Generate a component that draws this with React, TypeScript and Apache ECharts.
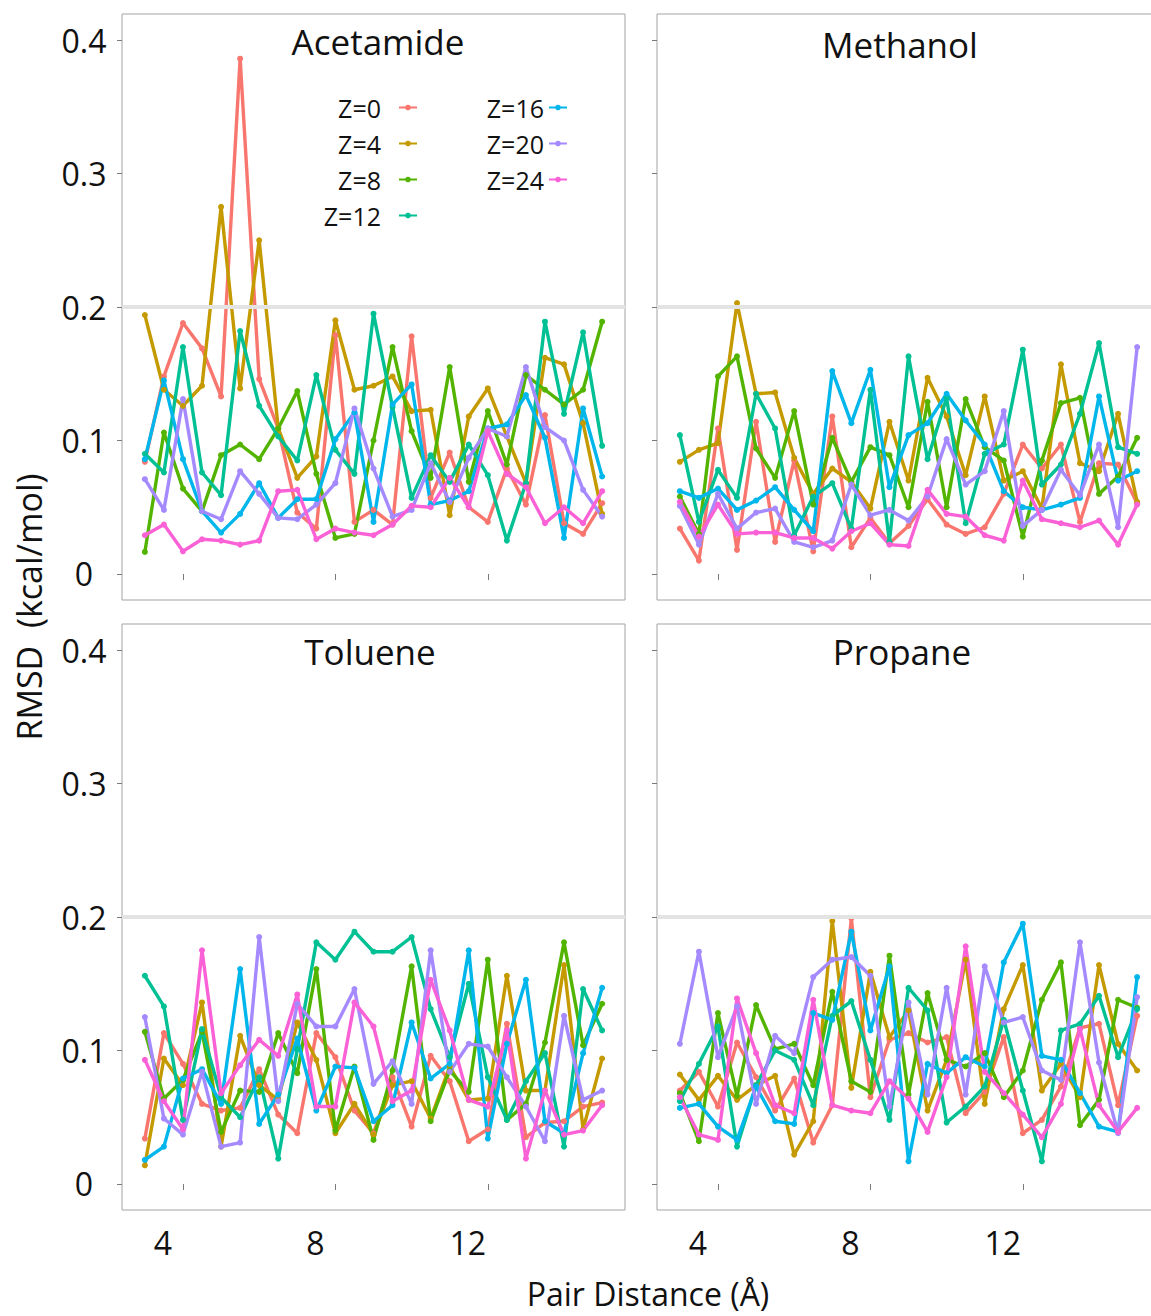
import React, { useEffect, useRef } from "react";
import * as echarts from "echarts";

// ---------- data ----------
const pairDistance = [3, 3.5, 4, 4.5, 5, 5.5, 6, 6.5, 7, 7.5, 8, 8.5, 9, 9.5, 10, 10.5, 11, 11.5, 12, 12.5, 13, 13.5, 14, 14.5, 15];
const zLevels = ["Z=0", "Z=4", "Z=8", "Z=12", "Z=16", "Z=20", "Z=24"];
const zColors = ["#F8766D", "#C49A00", "#53B400", "#00C094", "#00B6EB", "#A58AFF", "#FB61D7"];
const panelNames = ["Acetamide", "Methanol", "Toluene", "Propane"];
const xTicks = [4, 8, 12];
const yTicks = [0, 0.1, 0.2, 0.3, 0.4];
const thresholdRMSD = 0.2;

// Acetamide
const acetamideZ0 = [0.084, 0.148, 0.188, 0.169, 0.133, 0.386, 0.146, 0.109, 0.046, 0.034, 0.179, 0.039, 0.048, 0.037, 0.178, 0.057, 0.091, 0.050, 0.039, 0.079, 0.052, 0.119, 0.038, 0.030, 0.053];
const acetamideZ4 = [0.194, 0.138, 0.126, 0.141, 0.275, 0.139, 0.250, 0.109, 0.072, 0.088, 0.190, 0.138, 0.141, 0.148, 0.122, 0.123, 0.044, 0.118, 0.139, 0.103, 0.068, 0.162, 0.157, 0.113, 0.045];
const acetamideZ8 = [0.0165, 0.106, 0.064, 0.047, 0.089, 0.097, 0.086, 0.109, 0.137, 0.075, 0.027, 0.030, 0.100, 0.170, 0.107, 0.072, 0.155, 0.069, 0.122, 0.082, 0.149, 0.138, 0.127, 0.138, 0.189];
const acetamideZ12 = [0.090, 0.076, 0.170, 0.076, 0.059, 0.182, 0.126, 0.103, 0.085, 0.149, 0.093, 0.075, 0.195, 0.125, 0.057, 0.089, 0.069, 0.097, 0.074, 0.025, 0.068, 0.189, 0.120, 0.181, 0.096];
const acetamideZ16 = [0.086, 0.145, 0.086, 0.047, 0.031, 0.045, 0.068, 0.042, 0.056, 0.056, 0.101, 0.121, 0.039, 0.127, 0.142, 0.052, 0.055, 0.062, 0.109, 0.112, 0.134, 0.102, 0.027, 0.124, 0.073];
const acetamideZ20 = [0.071, 0.048, 0.131, 0.047, 0.041, 0.077, 0.060, 0.042, 0.041, 0.052, 0.068, 0.124, 0.079, 0.043, 0.048, 0.083, 0.054, 0.087, 0.109, 0.103, 0.155, 0.110, 0.100, 0.063, 0.043];
const acetamideZ24 = [0.029, 0.037, 0.017, 0.026, 0.025, 0.022, 0.025, 0.062, 0.063, 0.026, 0.034, 0.031, 0.029, 0.037, 0.051, 0.050, 0.072, 0.050, 0.107, 0.075, 0.065, 0.038, 0.050, 0.038, 0.062];

// Methanol
const methanolZ0 = [0.034, 0.010, 0.109, 0.018, 0.114, 0.024, 0.085, 0.017, 0.118, 0.020, 0.042, 0.023, 0.036, 0.056, 0.037, 0.030, 0.035, 0.060, 0.097, 0.079, 0.097, 0.039, 0.083, 0.082, 0.053];
const methanolZ4 = [0.084, 0.093, 0.098, 0.203, 0.135, 0.136, 0.087, 0.060, 0.079, 0.069, 0.049, 0.114, 0.070, 0.147, 0.118, 0.074, 0.133, 0.070, 0.077, 0.049, 0.157, 0.083, 0.077, 0.120, 0.054];
const methanolZ8 = [0.058, 0.030, 0.148, 0.163, 0.094, 0.072, 0.122, 0.052, 0.102, 0.069, 0.095, 0.089, 0.050, 0.129, 0.050, 0.131, 0.095, 0.085, 0.028, 0.085, 0.128, 0.132, 0.060, 0.073, 0.102];
const methanolZ12 = [0.104, 0.039, 0.078, 0.057, 0.135, 0.109, 0.029, 0.058, 0.068, 0.034, 0.138, 0.024, 0.163, 0.086, 0.132, 0.038, 0.090, 0.097, 0.168, 0.067, 0.082, 0.120, 0.173, 0.095, 0.090];
const methanolZ16 = [0.062, 0.057, 0.064, 0.048, 0.055, 0.065, 0.048, 0.032, 0.152, 0.113, 0.153, 0.065, 0.104, 0.113, 0.135, 0.115, 0.097, 0.062, 0.050, 0.048, 0.052, 0.057, 0.133, 0.070, 0.077];
const methanolZ20 = [0.051, 0.022, 0.060, 0.034, 0.046, 0.049, 0.024, 0.020, 0.025, 0.067, 0.044, 0.048, 0.040, 0.058, 0.101, 0.067, 0.077, 0.122, 0.036, 0.048, 0.078, 0.059, 0.097, 0.035, 0.170];
const methanolZ24 = [0.054, 0.028, 0.052, 0.030, 0.031, 0.031, 0.027, 0.027, 0.019, 0.032, 0.038, 0.022, 0.021, 0.063, 0.045, 0.043, 0.029, 0.025, 0.070, 0.041, 0.038, 0.035, 0.040, 0.022, 0.052];

// Toluene
const tolueneZ0 = [0.034, 0.113, 0.090, 0.060, 0.055, 0.057, 0.086, 0.052, 0.038, 0.113, 0.095, 0.055, 0.038, 0.080, 0.043, 0.096, 0.077, 0.032, 0.041, 0.120, 0.035, 0.046, 0.047, 0.058, 0.061];
const tolueneZ4 = [0.014, 0.094, 0.074, 0.136, 0.028, 0.111, 0.074, 0.063, 0.121, 0.093, 0.038, 0.060, 0.037, 0.074, 0.077, 0.049, 0.088, 0.063, 0.064, 0.156, 0.070, 0.070, 0.164, 0.041, 0.094];
const tolueneZ8 = [0.114, 0.064, 0.078, 0.114, 0.039, 0.070, 0.069, 0.113, 0.083, 0.161, 0.040, 0.088, 0.033, 0.085, 0.163, 0.047, 0.085, 0.069, 0.168, 0.048, 0.060, 0.106, 0.181, 0.104, 0.135];
const tolueneZ12 = [0.156, 0.133, 0.048, 0.116, 0.065, 0.050, 0.080, 0.019, 0.101, 0.181, 0.168, 0.189, 0.174, 0.174, 0.185, 0.131, 0.095, 0.150, 0.080, 0.048, 0.077, 0.098, 0.028, 0.146, 0.115];
const tolueneZ16 = [0.018, 0.028, 0.079, 0.086, 0.060, 0.161, 0.045, 0.067, 0.109, 0.055, 0.088, 0.087, 0.047, 0.059, 0.121, 0.079, 0.090, 0.175, 0.034, 0.105, 0.153, 0.047, 0.038, 0.098, 0.147];
const tolueneZ20 = [0.125, 0.049, 0.037, 0.084, 0.028, 0.031, 0.185, 0.062, 0.135, 0.118, 0.118, 0.146, 0.075, 0.092, 0.060, 0.175, 0.084, 0.105, 0.103, 0.080, 0.058, 0.032, 0.126, 0.063, 0.070];
const tolueneZ24 = [0.093, 0.062, 0.041, 0.175, 0.068, 0.089, 0.108, 0.096, 0.142, 0.058, 0.058, 0.136, 0.118, 0.062, 0.070, 0.153, 0.115, 0.063, 0.058, 0.115, 0.019, 0.070, 0.037, 0.040, 0.059];

// Propane
const propaneZ0 = [0.070, 0.084, 0.058, 0.106, 0.080, 0.055, 0.079, 0.031, 0.059, 0.199, 0.065, 0.108, 0.113, 0.106, 0.110, 0.053, 0.069, 0.110, 0.038, 0.048, 0.073, 0.117, 0.120, 0.059, 0.126];
const propaneZ4 = [0.082, 0.063, 0.081, 0.063, 0.074, 0.081, 0.022, 0.047, 0.197, 0.072, 0.159, 0.110, 0.130, 0.055, 0.093, 0.168, 0.060, 0.131, 0.164, 0.070, 0.090, 0.065, 0.164, 0.105, 0.085];
const propaneZ8 = [0.068, 0.032, 0.128, 0.066, 0.134, 0.101, 0.105, 0.074, 0.144, 0.077, 0.069, 0.171, 0.067, 0.143, 0.093, 0.088, 0.098, 0.065, 0.085, 0.138, 0.166, 0.044, 0.063, 0.138, 0.132];
const propaneZ12 = [0.062, 0.090, 0.118, 0.028, 0.074, 0.100, 0.093, 0.059, 0.126, 0.137, 0.093, 0.048, 0.147, 0.130, 0.046, 0.058, 0.073, 0.123, 0.070, 0.017, 0.115, 0.120, 0.141, 0.095, 0.131];
const propaneZ16 = [0.057, 0.060, 0.043, 0.033, 0.073, 0.047, 0.045, 0.128, 0.123, 0.189, 0.115, 0.163, 0.017, 0.090, 0.083, 0.095, 0.088, 0.166, 0.195, 0.096, 0.093, 0.068, 0.043, 0.039, 0.155];
const propaneZ20 = [0.105, 0.174, 0.095, 0.133, 0.060, 0.111, 0.098, 0.155, 0.168, 0.170, 0.156, 0.058, 0.136, 0.067, 0.147, 0.067, 0.163, 0.121, 0.125, 0.085, 0.078, 0.181, 0.091, 0.038, 0.140];
const propaneZ24 = [0.065, 0.037, 0.033, 0.139, 0.098, 0.059, 0.053, 0.138, 0.059, 0.055, 0.053, 0.077, 0.064, 0.039, 0.080, 0.178, 0.084, 0.068, 0.052, 0.035, 0.060, 0.116, 0.059, 0.039, 0.057];

const panelSeries = [
  [acetamideZ0, acetamideZ4, acetamideZ8, acetamideZ12, acetamideZ16, acetamideZ20, acetamideZ24],
  [methanolZ0, methanolZ4, methanolZ8, methanolZ12, methanolZ16, methanolZ20, methanolZ24],
  [tolueneZ0, tolueneZ4, tolueneZ8, tolueneZ12, tolueneZ16, tolueneZ20, tolueneZ24],
  [propaneZ0, propaneZ4, propaneZ8, propaneZ12, propaneZ16, propaneZ20, propaneZ24],
];

// ---------- layout ----------
const FONT = "'Open Sans', sans-serif";
const TEXT = "#111111";
const BORDER = "#a3a3a3";
const gridBoxes = [
  { left: 122, top: 14 },
  { left: 657, top: 14 },
  { left: 122, top: 624 },
  { left: 657, top: 624 },
];
const GRID_W = 503;
const GRID_H = 586;
const titlePositions = [
  [378, 41],
  [900, 44],
  [370, 651],
  [902, 651],
];

export default function App() {
  const ref = useRef<HTMLDivElement>(null);

  useEffect(() => {
    if (!ref.current) return;
    const chart = echarts.init(ref.current, undefined, { renderer: "svg" });

    const grid = gridBoxes.map((g) => ({
      left: g.left,
      top: g.top,
      width: GRID_W,
      height: GRID_H,
      show: true,
      borderColor: BORDER,
      borderWidth: 1,
      backgroundColor: "#ffffff",
      containLabel: false,
      outerBoundsMode: "none",
    }));

    const xAxis = gridBoxes.map((_, i) => ({
      type: "value",
      gridIndex: i,
      min: 2.4,
      max: 15.6,
      axisLine: { show: false },
      splitLine: { show: false },
      axisTick: { show: true, customValues: xTicks, length: 6, lineStyle: { color: "#7a7a7a", width: 1 } },
      axisLabel: {
        show: i >= 2,
        customValues: xTicks,
        fontSize: 32,
        fontFamily: FONT,
        color: TEXT,
        margin: 16,
        padding: [0, 40, 0, 0],
      },
    }));

    const yAxis = gridBoxes.map((_, i) => ({
      type: "value",
      gridIndex: i,
      min: -0.0195,
      max: 0.4195,
      axisLine: { show: false },
      splitLine: { show: false },
      axisTick: { show: true, customValues: yTicks, length: 5, lineStyle: { color: "#7a7a7a", width: 1 } },
      axisLabel: {
        show: i % 2 === 0,
        customValues: yTicks,
        formatter: (v: number) => (Math.abs(v) < 1e-9 ? "0" : v.toFixed(1)),
        fontSize: 32,
        fontFamily: FONT,
        color: TEXT,
        align: "center",
        margin: 38,
      },
    }));

    const series: any[] = [];
    panelSeries.forEach((group, pi) => {
      group.forEach((vals, zi) => {
        series.push({
          type: "line",
          name: zLevels[zi],
          xAxisIndex: pi,
          yAxisIndex: pi,
          data: pairDistance.map((x, i) => [x, vals[i]]),
          color: zColors[zi],
          symbol: "circle",
          symbolSize: 6,
          showSymbol: true,
          lineStyle: { width: 3.4 },
          emphasis: { disabled: true },
          markLine:
            zi === 0
              ? {
                  silent: true,
                  symbol: "none",
                  label: { show: false },
                  lineStyle: { color: "#e3e3e3", width: 4, type: "solid" },
                  data: [{ yAxis: thresholdRMSD }],
                }
              : undefined,
        });
      });
    });

    const legendCommon = {
      orient: "vertical",
      align: "right",
      itemWidth: 18,
      itemHeight: 7,
      itemGap: 11,
      padding: 0,
      selectedMode: false,
    };

    const graphic: any[] = panelNames.map((name, i) => ({
      type: "text",
      x: titlePositions[i][0],
      y: titlePositions[i][1],
      style: {
        text: name,
        fontSize: 35,
        fontFamily: FONT,
        fill: TEXT,
        align: "center",
        verticalAlign: "middle",
      },
    }));
    graphic.push({
      type: "text",
      x: 29,
      y: 607,
      rotation: Math.PI / 2,
      style: {
        text: "RMSD  (kcal/mol)",
        fontSize: 34,
        fontFamily: FONT,
        fill: TEXT,
        align: "center",
        verticalAlign: "middle",
      },
    });
    graphic.push({
      type: "text",
      x: 648,
      y: 1293,
      style: {
        text: "Pair Distance (Å)",
        fontSize: 32,
        fontFamily: FONT,
        fill: TEXT,
        align: "center",
        verticalAlign: "middle",
      },
    });

    chart.setOption({
      animation: false,
      backgroundColor: "#ffffff",
      grid,
      xAxis,
      yAxis,
      series,
      legend: [
        {
          ...legendCommon,
          data: zLevels.slice(0, 4),
          right: 733,
          top: 95,
          textStyle: { fontSize: 25, fontFamily: FONT, color: TEXT, padding: [0, 13, 0, 0] },
        },
        {
          ...legendCommon,
          data: zLevels.slice(4),
          right: 583,
          top: 95,
          textStyle: { fontSize: 25, fontFamily: FONT, color: TEXT, padding: [0, 0, 0, 0] },
        },
      ],
      graphic,
    });

    return () => chart.dispose();
  }, []);

  return (
    <div
      ref={ref}
      style={{ position: "absolute", left: 0, top: 0, width: 1151, height: 1316 }}
    />
  );
}
